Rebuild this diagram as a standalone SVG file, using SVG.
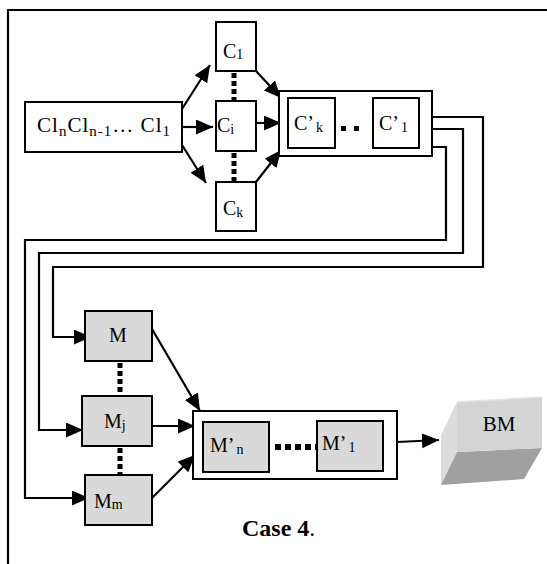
<svg xmlns="http://www.w3.org/2000/svg" width="547" height="564" viewBox="0 0 547 564">
<defs>
<marker id="ah" markerUnits="userSpaceOnUse" markerWidth="18" markerHeight="16" refX="17" refY="7.5" orient="auto">
<path d="M0,0 L17,7.5 L0,15 z" fill="#000"/>
</marker>
<style>
text{font-family:"Liberation Serif","Times New Roman",Times,serif;fill:#000}
.box{fill:#fff;stroke:#000;stroke-width:2}
.gbox{fill:#d9d9d9;stroke:#000;stroke-width:2}
.ln{fill:none;stroke:#000;stroke-width:2.2}
.ar{fill:none;stroke:#000;stroke-width:2.2;marker-end:url(#ah)}
.dots{fill:none;stroke:#000;stroke-width:5;stroke-dasharray:5 3}
</style>
</defs>
<rect width="547" height="564" fill="#fff"/>
<path class="ln" d="M8,564 V10 H547"/>

<g id="connectors">
<line class="ar" x1="182" y1="109" x2="210" y2="65"/>
<line class="ar" x1="182" y1="127" x2="213" y2="127"/>
<line class="ar" x1="182" y1="145" x2="206" y2="183"/>
<line class="ar" x1="256" y1="71" x2="281" y2="98"/>
<line class="ar" x1="256" y1="123" x2="281" y2="123"/>
<line class="ar" x1="256" y1="182" x2="281" y2="150"/>
<line class="dots" x1="234" y1="73" x2="234" y2="100"/>
<line class="dots" x1="234" y1="153" x2="234" y2="181"/>
<path class="ar" d="M432,117 H483 V267 H53 V337 H91"/>
<path class="ar" d="M432,129 H463 V253 H39 V430 H83"/>
<path class="ar" d="M432,147 H446 V240 H25 V498 H89"/>
<line class="dots" x1="120" y1="363" x2="120" y2="396"/>
<line class="dots" x1="120" y1="448" x2="120" y2="475"/>
<line class="ar" x1="152" y1="329" x2="200" y2="411"/>
<line class="ar" x1="152" y1="426" x2="195" y2="426"/>
<line class="ar" x1="152" y1="498" x2="195" y2="455"/>
<line class="ar" x1="397" y1="442" x2="439" y2="440"/>
</g>

<g id="cl">
<rect class="box" x="25" y="102" width="157" height="50"/>
<text x="37" y="132" font-size="21" textLength="133" lengthAdjust="spacing">Cl<tspan font-size="15" dy="4">n</tspan><tspan dy="-4">Cl</tspan><tspan font-size="15" dy="4">n-1</tspan><tspan dy="-4">… Cl</tspan><tspan font-size="15" dy="4">1</tspan></text>
</g>
<g id="c1">
<rect class="box" x="216" y="22" width="40" height="49"/>
<text x="223" y="58" font-size="20">C<tspan font-size="14" dy="1">1</tspan></text>
</g>
<g id="ci">
<rect class="box" x="216" y="101" width="40" height="50"/>
<text x="217" y="132" font-size="20">C<tspan font-size="14" dy="2">i</tspan></text>
</g>
<g id="ck">
<rect class="box" x="216" y="182" width="40" height="49"/>
<text x="223" y="215" font-size="20">C<tspan font-size="14" dy="2">k</tspan></text>
</g>
<g id="cprime">
<rect class="box" x="279" y="91" width="153" height="65"/>
<rect class="box" x="288" y="98" width="47" height="50"/>
<rect class="box" x="373" y="98" width="46" height="50"/>
<rect x="341" y="126" width="5" height="5" fill="#000"/>
<rect x="354" y="126" width="5" height="5" fill="#000"/>
<text x="294" y="130" font-size="20">C’<tspan font-size="14" dx="2" dy="2">k</tspan></text>
<text x="379" y="130" font-size="20">C’<tspan font-size="14" dx="2" dy="2">1</tspan></text>
</g>
<g id="m">
<rect class="gbox" x="85" y="311" width="67" height="50"/>
<text x="118" y="342" font-size="20" text-anchor="middle">M</text>
</g>
<g id="mj">
<rect class="gbox" x="82" y="396" width="70" height="50"/>
<text x="104" y="428" font-size="20">M<tspan font-size="14" dy="2">j</tspan></text>
</g>
<g id="mm">
<rect class="gbox" x="85" y="475" width="67" height="50"/>
<text x="94" y="508" font-size="20">M<tspan font-size="14" dy="1">m</tspan></text>
</g>
<g id="mprime">
<rect class="box" x="193" y="411" width="204" height="68"/>
<rect class="gbox" x="203" y="422" width="66" height="50"/>
<rect class="gbox" x="317" y="421" width="66" height="50"/>
<line x1="275" y1="447" x2="317" y2="447" stroke="#000" stroke-width="6" stroke-dasharray="6 4"/>
<text x="210" y="452" font-size="20">M’<tspan font-size="14" dx="2" dy="2">n</tspan></text>
<text x="322" y="450" font-size="20">M’<tspan font-size="14" dx="2" dy="2">1</tspan></text>
</g>
<g id="bm">
<polygon points="441,435 457,402 457,452 441,485" fill="#dcdcdc"/>
<polygon points="457,452 542,448 524,479 441,485" fill="#a0a0a0"/>
<polygon points="457,402 542,397 542,448 457,452" fill="#d4d4d4"/>
<polyline points="457,402 542,397" fill="none" stroke="#e4e4e4" stroke-width="1.5"/>
<text x="499" y="431" font-size="21" text-anchor="middle">BM</text>
</g>
<text x="242" y="536" font-size="24"><tspan font-weight="bold">Case 4</tspan>.</text>
</svg>
